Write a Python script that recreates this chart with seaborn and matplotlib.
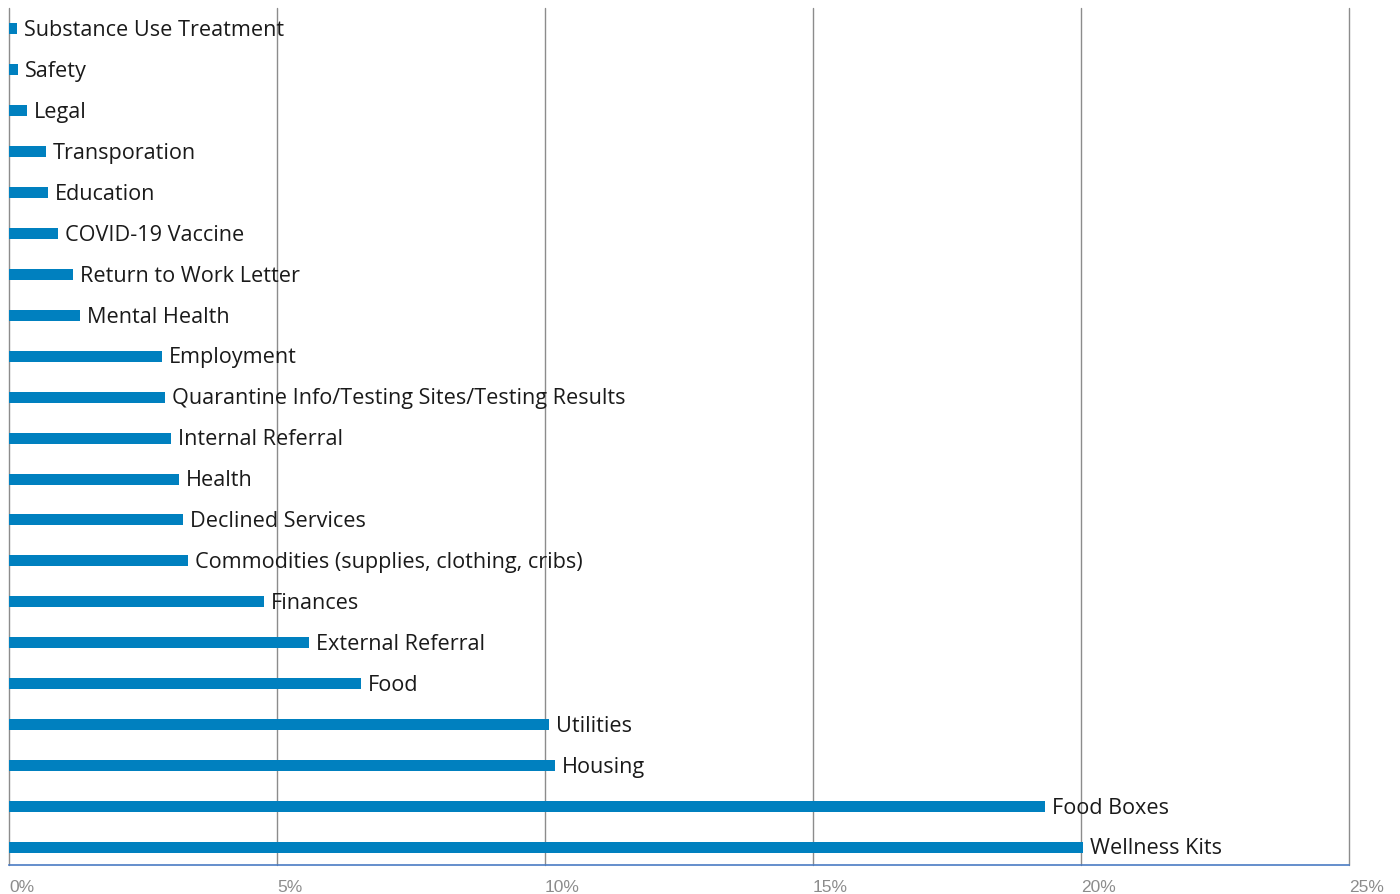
import matplotlib
matplotlib.use("Agg")
import matplotlib.pyplot as plt
import seaborn as sns
import pandas as pd

categories = [
    "Substance Use Treatment", "Safety", "Legal", "Transporation", "Education",
    "COVID-19 Vaccine", "Return to Work Letter", "Mental Health", "Employment",
    "Quarantine Info/Testing Sites/Testing Results", "Internal Referral", "Health",
    "Declined Services", "Commodities (supplies, clothing, cribs)", "Finances",
    "External Referral", "Food", "Utilities", "Housing", "Food Boxes", "Wellness Kits",
]
values = [0.15, 0.17, 0.34, 0.69, 0.73, 0.91, 1.19, 1.32, 2.85, 2.91, 3.02, 3.17,
          3.25, 3.34, 4.76, 5.60, 6.57, 10.07, 10.19, 19.33, 20.04]
tick_values = [0, 5, 10, 15, 20, 25]
tick_labels = ["0%", "5%", "10%", "15%", "20%", "25%"]

df = pd.DataFrame({"category": categories, "value": values})

sns.set_style("white")
plt.rcParams["font.family"] = ["Open Sans", "DejaVu Sans"]

fig = plt.figure(figsize=(14, 8.94), dpi=100)
ax = fig.add_axes([9 / 1400, 1 - 864.5 / 894, 1340 / 1400, 856 / 894])

sns.barplot(data=df, x="value", y="category", orient="h", color="#0080BF",
            saturation=1, width=0.27, linewidth=0, ax=ax)

ax.set_xlim(0, 25)
ax.set_ylim(20.42, -0.5)
ax.set_xticks(tick_values)
ax.set_xticklabels(tick_labels, ha="left", color="#8C8C8C", fontsize=12.5,
                   family=["Liberation Sans", "DejaVu Sans"])
ax.tick_params(axis="x", length=0, pad=11)
ax.set_yticks([])
ax.set_xlabel("")
ax.set_ylabel("")

for x in tick_values:
    ax.axvline(x, color="#8C8C8C", lw=1, zorder=0, clip_on=False)

for s in ["top", "right", "left"]:
    ax.spines[s].set_visible(False)
ax.spines["bottom"].set_color("#4A7CC4")
ax.spines["bottom"].set_linewidth(1.2)

for i, (c, v) in enumerate(zip(categories, values)):
    ax.annotate(c, xy=(v, i), xytext=(5, -1.2), textcoords="offset points",
                va="center", ha="left", fontsize=15.6, color="#1A1A1A")

fig.savefig("out.png", dpi=100)
